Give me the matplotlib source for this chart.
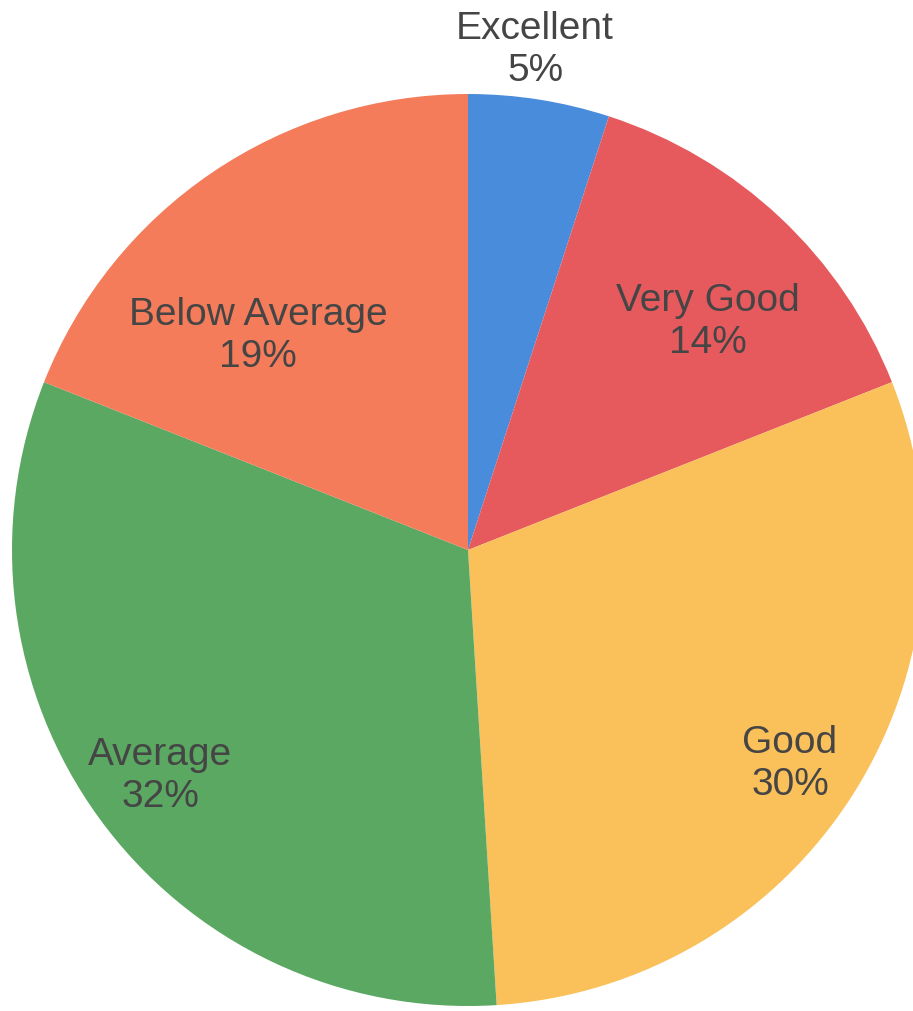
import matplotlib
matplotlib.use("Agg")
import matplotlib.pyplot as plt

categories = ["Excellent", "Very Good", "Good", "Average", "Below Average"]
values = [5, 14, 30, 32, 19]
colors = ["#4a8cdc", "#e65a5e", "#fac05a", "#5aa862", "#f47c5a"]
# label anchor positions (axes data coords, pie radius = 1)
label_pos = [(0.147, 1.099), (0.526, 0.502), (0.706, -0.467), (-0.675, -0.493), (-0.46, 0.471)]

plt.rcParams['font.family'] = ['Liberation Sans', 'DejaVu Sans']

fig = plt.figure(figsize=(9.13, 10.12), dpi=100)
ax = fig.add_axes([12/913, 5/1012, 912/913, 912/1012])
wedges, _ = ax.pie(values, colors=colors, startangle=90, counterclock=False,
                   radius=1, wedgeprops=dict(linewidth=0))
ax.set_xlim(-1, 1)
ax.set_ylim(-1, 1)
ax.set_aspect('auto')
ax.axis('off')

for cat, v, (x, y) in zip(categories, values, label_pos):
    ax.text(x, y, f"{cat}\n{v}%", ha='center', va='center', fontsize=28,
            color='#454545', linespacing=1.2, clip_on=False)

fig.savefig("out.png", dpi=100)
